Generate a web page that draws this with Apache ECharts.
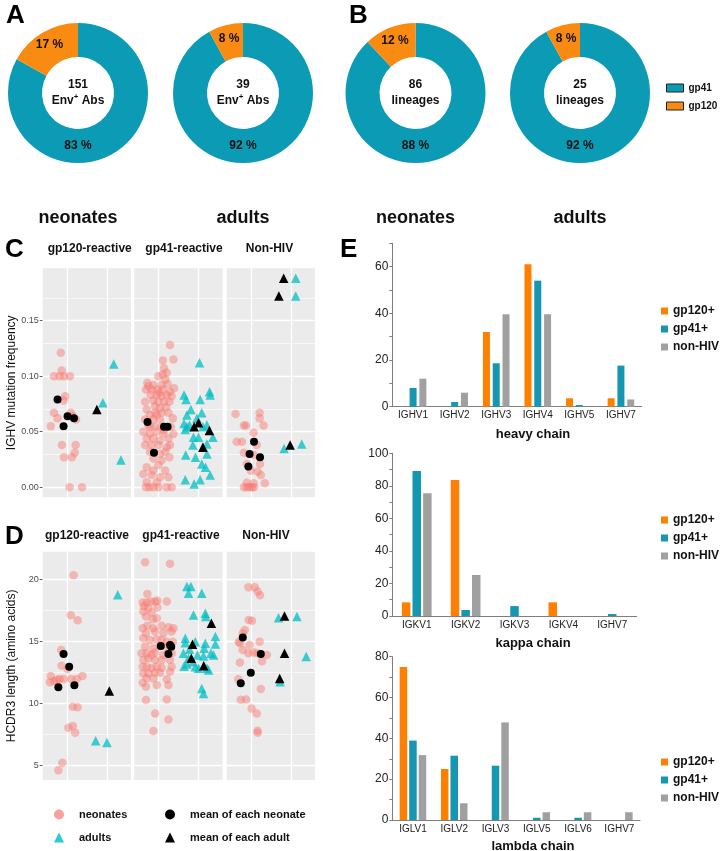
<!DOCTYPE html>
<html><head><meta charset="utf-8">
<script src="https://cdn.jsdelivr.net/npm/echarts@6/dist/echarts.min.js"></script>
<style>html,body{margin:0;padding:0;background:#fff}#main{width:720px;height:851px}</style>
</head><body><div id="main"></div>
<script>
// ---------------- data ----------------
const pieNames = ['gp41', 'gp120'];
const pieGroupLabels = ['neonates', 'adults', 'neonates', 'adults'];
const pieCounts = ['151', '39', '86', '25'];
const pieUnits = ['Env+ Abs', 'Env+ Abs', 'lineages', 'lineages'];
const pieANeonates = [83, 17];
const pieAAdults = [92, 8];
const pieBNeonates = [88, 12];
const pieBAdults = [92, 8];

const facetTitles = ['gp120-reactive', 'gp41-reactive', 'Non-HIV'];
const mutTicks = [0, 0.05, 0.10, 0.15];
const mutMinor = [0.025, 0.075, 0.125, 0.175];
const cdr3Ticks = [5, 10, 15, 20];
const cdr3Minor = [7.5, 12.5, 17.5];
const groupCentres = [1, 2]; // neonates, adults

// IGHV mutation frequency  [jittered group position, value]
const mutGp120Neo = [[0.85,0.121],[0.87,0.105],[0.68,0.100],[0.82,0.100],[0.93,0.100],[1.08,0.100],[0.96,0.082],[0.92,0.078],[0.68,0.067],[0.77,0.062],[1.10,0.067],[1.15,0.064],[1.23,0.061],[0.60,0.055],[0.88,0.038],[1.22,0.038],[1.20,0.031],[0.93,0.027],[1.13,0.027],[1.07,0.000],[1.38,0.000]];
const mutGp120Adu = [[2.17,0.111],[1.90,0.076],[2.35,0.0245]];
const mutGp120NeoMean = [[0.77,0.079],[1.02,0.064],[1.18,0.062],[0.92,0.055]];
const mutGp120AduMean = [[1.75,0.070]];

const mutGp41Neo = [[1.29,0.128],[1.375,0.115],[1.11,0.114],[1.14,0.107],[1.11,0.1015],[1.21,0.103],[1.0,0.100],[1.175,0.097],[0.725,0.094],[0.875,0.092],[1.08,0.092],[1.23,0.093],[1.39,0.089],[0.69,0.088],[0.83,0.088],[0.975,0.088],[1.11,0.088],[1.29,0.086],[0.81,0.083],[0.96,0.083],[1.08,0.082],[1.21,0.083],[1.33,0.082],[0.67,0.077],[0.875,0.078],[1.0,0.077],[1.14,0.077],[1.275,0.077],[0.92,0.073],[1.04,0.071],[1.19,0.072],[0.71,0.070],[0.79,0.065],[0.96,0.065],[1.08,0.067],[1.25,0.067],[0.67,0.061],[0.875,0.061],[1.04,0.061],[1.36,0.062],[0.75,0.056],[0.92,0.0545],[1.08,0.0545],[1.31,0.0545],[0.625,0.050],[0.79,0.0485],[0.96,0.050],[1.125,0.0485],[1.375,0.048],[0.71,0.044],[0.875,0.044],[1.04,0.042],[1.25,0.044],[0.67,0.038],[0.83,0.038],[1.0,0.038],[1.21,0.036],[0.79,0.032],[1.04,0.030],[1.17,0.032],[0.875,0.026],[1.08,0.024],[1.275,0.027],[1.0,0.020],[0.71,0.018],[0.875,0.015],[1.17,0.015],[0.625,0.012],[0.83,0.011],[1.04,0.009],[1.25,0.009],[0.71,0.0045],[0.96,0.0045],[0.69,0.0],[0.775,0.0],[0.875,0.0],[1.0,0.0],[1.21,0.0],[1.33,0.0],[0.75,0.091],[1.02,0.085],[0.92,0.067],[1.14,0.0515],[0.79,0.0545],[1.29,0.038]];
const mutGp41Adu = [[2.025,0.112],[1.64,0.083],[1.69,0.079],[2.275,0.086],[2.29,0.083],[2.04,0.079],[1.81,0.070],[1.71,0.065],[2.08,0.067],[1.96,0.062],[1.64,0.0575],[1.71,0.0545],[1.67,0.052],[1.775,0.056],[2.11,0.0545],[2.21,0.056],[2.36,0.045],[1.875,0.045],[2.0,0.045],[1.86,0.038],[2.21,0.039],[2.11,0.036],[1.68,0.029],[1.925,0.027],[2.21,0.030],[2.08,0.021],[2.175,0.018],[2.29,0.011],[1.67,0.0067],[1.89,0.003],[2.04,0.0067]];
const mutGp41NeoMean = [[0.73,0.0588],[1.14,0.0545],[1.23,0.0545],[0.89,0.031]];
const mutGp41AduMean = [[2.0,0.058],[1.89,0.0545],[2.27,0.051],[2.11,0.036]];

const mutNonNeo = [[0.62,0.066],[1.22,0.067],[1.22,0.062],[0.83,0.0555],[0.88,0.0555],[1.32,0.0555],[1.07,0.049],[0.65,0.041],[0.78,0.041],[1.15,0.038],[0.83,0.031],[1.07,0.029],[0.9,0.021],[1.23,0.021],[1.0,0.015],[1.17,0.014],[1.25,0.011],[0.9,0.004],[1.07,0.0036],[1.35,0.0036],[0.83,0],[0.9,0],[0.97,0],[1.03,0],[1.08,0]];
const mutNonAdu = [[2.12,0.188],[2.12,0.172],[1.83,0.035],[2.27,0.039]];
const mutNonNeoMean = [[1.08,0.041],[0.97,0.030],[1.23,0.027],[0.94,0.0186]];
const mutNonAduMean = [[1.82,0.188],[1.70,0.172],[1.98,0.038]];

// HCDR3 length (amino acids)
const cdrGp120Neo = [[1.10,17.1],[1.27,16.7],[1.17,20.3],[0.86,14.3],[0.87,13.04],[1.02,12.77],[0.6,12.2],[0.68,11.8],[0.58,11.7],[0.75,11.9],[0.82,11.97],[0.92,11.97],[1.11,11.97],[1.25,11.97],[1.39,12.2],[1.15,9.74],[1.27,9.69],[1.04,8.05],[1.15,8.2],[1.21,7.65],[0.89,5.23],[0.79,4.64]];
const cdrGp120Adu = [[2.27,18.73],[1.72,7.0],[2.0,6.87]];
const cdrGp120NeoMean = [[0.92,13.98],[1.06,12.96],[0.79,11.3],[1.19,11.46]];
const cdrGp120AduMean = [[2.06,11.0]];

const cdrGp41Neo = [[0.67,21.36],[1.29,21.23],[0.725,18.81],[1.21,18.19],[0.61,18.11],[0.71,18.11],[0.81,18.19],[0.92,18.19],[0.975,18.25],[0.64,17.8],[0.75,17.66],[0.975,17.71],[0.625,17.39],[0.83,17.31],[0.96,16.85],[0.86,16.77],[0.69,16.99],[0.725,16.24],[0.61,16.05],[0.875,16.05],[1.08,16.24],[1.25,16.13],[1.375,16.05],[0.69,15.65],[0.92,15.78],[1.125,15.65],[1.33,15.78],[0.625,15.24],[0.79,15.11],[0.96,15.16],[1.08,15.11],[1.21,14.97],[1.36,14.97],[0.67,14.57],[0.875,14.44],[1.04,14.63],[1.21,14.52],[0.58,14.03],[0.71,14.03],[0.83,13.9],[0.92,14.09],[1.125,13.9],[1.33,14.03],[0.625,13.5],[0.75,13.63],[0.92,13.5],[1.08,13.5],[1.29,13.5],[0.61,12.96],[0.71,12.96],[0.83,12.83],[0.96,12.96],[1.08,12.88],[1.33,12.96],[0.625,12.42],[0.75,12.42],[0.92,12.48],[1.04,12.48],[1.29,12.56],[0.71,12.02],[0.875,12.02],[1.21,11.94],[0.61,11.67],[0.69,11.35],[0.96,11.48],[1.25,11.48],[0.69,10.28],[1.21,10.33],[0.92,9.2],[1.25,8.72],[0.875,7.78]];
const cdrGp41Adu = [[1.71,19.4],[1.81,19.4],[1.75,18.87],[2.08,18.87],[1.875,17.12],[2.17,17.26],[2.18,16.99],[1.67,15.24],[1.67,14.89],[1.92,14.97],[2.17,14.84],[2.42,15.38],[2.14,14.44],[2.42,14.79],[1.625,14.03],[1.75,13.63],[1.975,13.9],[2.125,13.82],[2.31,14.03],[2.375,13.9],[1.64,13.0],[1.71,13.18],[1.92,12.96],[2.0,12.83],[2.21,12.83],[2.25,12.69],[2.08,11.2],[2.125,10.81],[1.86,13.36],[1.775,14.36]];
const cdrGp41NeoMean = [[1.06,14.63],[1.29,14.7],[1.32,14.57],[1.25,13.98]];
const cdrGp41AduMean = [[2.32,16.45],[1.85,14.76],[1.82,13.63],[2.13,13.04]];

const cdrNonNeo = [[0.94,19.35],[1.1,19.35],[1.17,19.0],[1.23,18.7],[0.95,16.72],[1.03,16.66],[0.85,15.9],[0.8,15.64],[0.7,14.95],[0.73,14.84],[1.22,14.97],[0.8,14.3],[0.97,14.7],[0.94,14.03],[1.07,14.1],[1.17,14.03],[1.4,13.9],[1.28,13.4],[0.73,13.3],[0.69,11.94],[1.25,11.16],[0.75,10.3],[0.88,10.33],[1.02,9.6],[1.15,9.2],[1.17,7.8],[1.17,7.65]];
const cdrNonAdu = [[1.69,16.9],[2.15,17.0],[2.38,13.77],[1.73,11.75]];
const cdrNonNeoMean = [[0.8,15.3],[1.25,13.98],[1.0,12.48],[0.75,11.62]];
const cdrNonAduMean = [[1.84,17.04],[1.84,14.03],[1.72,12.0]];

// Gene usage (%)
const barSeriesNames = ['gp120+', 'gp41+', 'non-HIV'];
const heavyGenes = ['IGHV1', 'IGHV2', 'IGHV3', 'IGHV4', 'IGHV5', 'IGHV7'];
const heavyGp120 = [0, 0, 32, 61, 3.6, 3.6];
const heavyGp41 = [8, 2, 18.6, 54, 0.7, 17.6];
const heavyNon = [12, 6, 39.6, 39.6, 0, 3.1];
const kappaGenes = ['IGKV1', 'IGKV2', 'IGKV3', 'IGKV4', 'IGHV7'];
const kappaGp120 = [8.4, 83.6, 0, 8.4, 0];
const kappaGp41 = [89.1, 3.7, 6.1, 0, 1.2];
const kappaNon = [75.4, 25.2, 0, 0, 0];
const lambdaGenes = ['IGLV1', 'IGLV2', 'IGLV3', 'IGLV5', 'IGLV6', 'IGHV7'];
const lambdaGp120 = [75, 25, 0, 0, 0, 0];
const lambdaGp41 = [38.9, 31.5, 26.6, 1.1, 1.1, 0];
const lambdaNon = [31.8, 8.2, 47.8, 3.8, 3.8, 3.8];
const chainTitles = ['heavy chain', 'kappa chain', 'lambda chain'];

// ---------------- styles / layout ----------------
const FONT = 'Liberation Sans, Arial, Helvetica, sans-serif';
const PIE_TEAL = '#0B9BB5', PIE_ORANGE = '#F98A12';
const BAR_COLORS = ['#FF7F00', '#1596B1', '#A0A0A0'];
const NEO_COLOR = '#F8766D', ADU_COLOR = '#00BFC4';

const facetLefts = [42.7, 134.3, 226.7];
const facetW = 88.3;
const cTop = 268.3, cH = 229;
const dTop = 551.7, dH = 228.3;

const chart = echarts.init(document.getElementById('main'));

const grids = [], xAxes = [], yAxes = [], series = [], legends = [], gfx = [];

function txt(x, y, text, size, weight, extra) {
  const e = Object.assign({
    type: 'text', x: x, y: y, silent: true, z: 100,
    style: {
      text: text, x: 0, y: 0, fill: '#111',
      fontSize: size, fontWeight: weight || 'normal', fontFamily: FONT,
      align: 'center', verticalAlign: 'middle', textAlign: 'center', textVerticalAlign: 'middle'
    }
  }, extra || {});
  gfx.push(e);
  return e;
}

// ---------- Pies ----------
const pieCentres = [[78, 93], [243, 93], [415.5, 93], [580, 93]];
const pieData = [pieANeonates, pieAAdults, pieBNeonates, pieBAdults];
pieData.forEach((vals, i) => {
  const c = pieCentres[i];
  series.push({
    type: 'pie', name: 'pie' + i, center: c, radius: [36, 70], startAngle: 90, clockwise: true,
    avoidLabelOverlap: false, silent: true, animation: false,
    emphasis: { disabled: true, scale: false },
    data: vals.map((v, k) => ({ name: pieNames[k], value: v, itemStyle: { color: k === 0 ? PIE_TEAL : PIE_ORANGE } })),
    label: { show: true, position: 'inside', formatter: p => p.value + ' %', fontFamily: FONT, fontWeight: 'bold', fontSize: 12, color: '#111' },
    labelLine: { show: false },
    labelLayout: p => p.dataIndex === 0 ? { x: c[0], y: c[1] + 53, align: 'center', verticalAlign: 'middle' } : {}
  });
  txt(c[0], c[1] - 8, pieCounts[i], 12, 'bold');
  const u = pieUnits[i];
  if (u.indexOf('+') >= 0) {
    const parts = u.split('+');
    gfx.push({
      type: 'text', x: c[0], y: c[1] + 8, silent: true, z: 100,
      style: {
        text: '{t|' + parts[0] + '}{s|+}{t|' + parts[1] + '}', x: 0, y: 0,
        align: 'center', verticalAlign: 'middle', textAlign: 'center', textVerticalAlign: 'middle',
        rich: {
          t: { fontSize: 12, fontWeight: 'bold', fontFamily: FONT, fill: '#111', lineHeight: 16, verticalAlign: 'middle' },
          s: { fontSize: 8, fontWeight: 'bold', fontFamily: FONT, fill: '#111', lineHeight: 7, verticalAlign: 'top' }
        }
      }
    });
  } else {
    txt(c[0], c[1] + 8, u, 12, 'bold');
  }
  txt(c[0], 218, pieGroupLabels[i], 18, 'bold');
});
legends.push({
  data: pieNames, orient: 'vertical', left: 661, top: 78, itemWidth: 17, itemHeight: 8, itemGap: 8,
  icon: 'rect', selectedMode: false, itemStyle: { borderColor: '#222', borderWidth: 1 },
  textStyle: { fontFamily: FONT, fontWeight: 'bold', fontSize: 10, color: '#111' }
});

// ---------- Facet scatter panels ----------
const mutFacets = [
  [mutGp120Neo, mutGp120Adu, mutGp120NeoMean, mutGp120AduMean],
  [mutGp41Neo, mutGp41Adu, mutGp41NeoMean, mutGp41AduMean],
  [mutNonNeo, mutNonAdu, mutNonNeoMean, mutNonAduMean]
];
const cdrFacets = [
  [cdrGp120Neo, cdrGp120Adu, cdrGp120NeoMean, cdrGp120AduMean],
  [cdrGp41Neo, cdrGp41Adu, cdrGp41NeoMean, cdrGp41AduMean],
  [cdrNonNeo, cdrNonAdu, cdrNonNeoMean, cdrNonAduMean]
];
const scatterNames = ['neonates', 'adults', 'mean of each neonate', 'mean of each adult'];

function addFacetRow(facets, top, h, ymin, ymax, ticks, minors, fmt) {
  facets.forEach((f, j) => {
    const gi = grids.length;
    grids.push({ left: facetLefts[j], top: top, width: facetW, height: h, show: true, backgroundColor: '#EBEBEB', borderWidth: 0, containLabel: false });
    xAxes.push({ gridIndex: gi, type: 'value', min: 0.4, max: 2.6, show: false });
    yAxes.push({
      gridIndex: gi, type: 'value', min: ymin, max: ymax, show: j === 0,
      axisLine: { show: false }, splitLine: { show: false },
      axisTick: { show: true, length: 3, lineStyle: { color: '#333', width: 0.8 }, customValues: ticks },
      axisLabel: { show: true, customValues: ticks, formatter: fmt, color: '#4D4D4D', fontSize: 9, fontFamily: FONT, margin: 4 }
    });
    const ml = [];
    ticks.forEach(v => ml.push({ yAxis: v, lineStyle: { width: 1.3 } }));
    minors.forEach(v => ml.push({ yAxis: v, lineStyle: { width: 0.6 } }));
    groupCentres.forEach(v => ml.push({ xAxis: v, lineStyle: { width: 1.3 } }));
    series.push({
      type: 'scatter', xAxisIndex: gi, yAxisIndex: gi, data: [], silent: true, z: 1, animation: false,
      markLine: { silent: true, z: 1, animation: false, symbol: ['none', 'none'], label: { show: false },
        lineStyle: { color: '#FFFFFF', type: 'solid' }, emphasis: { disabled: true }, data: ml }
    });
    const styles = [
      { symbol: 'circle', symbolSize: 8.5, itemStyle: { color: NEO_COLOR, opacity: 0.45 }, z: 2 },
      { symbol: 'triangle', symbolSize: 9.5, itemStyle: { color: ADU_COLOR, opacity: 0.75 }, z: 2 },
      { symbol: 'circle', symbolSize: 8, itemStyle: { color: '#000', opacity: 1 }, z: 3 },
      { symbol: 'triangle', symbolSize: 9.5, itemStyle: { color: '#000', opacity: 1 }, z: 3 }
    ];
    f.forEach((d, k) => {
      series.push(Object.assign({
        type: 'scatter', name: scatterNames[k], xAxisIndex: gi, yAxisIndex: gi, data: d,
        silent: true, animation: false, emphasis: { disabled: true }
      }, styles[k]));
    });
  });
}
addFacetRow(mutFacets, cTop, cH, -0.009, 0.197, mutTicks, mutMinor, v => v.toFixed(2));
addFacetRow(cdrFacets, dTop, dH, 3.85, 22.2, cdr3Ticks, cdr3Minor, v => String(v));

// facet titles
[89.7, 184, 269.5].forEach((x, j) => txt(x, 249, facetTitles[j], 12, 'bold'));
[87, 181, 266].forEach((x, j) => txt(x, 536, facetTitles[j], 12, 'bold'));
// axis titles
txt(12, cTop + cH / 2, 'IGHV mutation frequency', 12, 'normal', { rotation: Math.PI / 2 });
txt(12, dTop + dH / 2, 'HCDR3 length (amino acids)', 12, 'normal', { rotation: Math.PI / 2 });

// scatter legends
legends.push({
  data: [
    { name: 'neonates', icon: 'circle', itemStyle: { color: '#F7A29C', opacity: 1 } },
    { name: 'adults', icon: 'triangle', itemStyle: { color: '#29C9D6', opacity: 1 } }
  ],
  orient: 'vertical', left: 49, top: 804, itemWidth: 10, itemHeight: 10, itemGap: 12, selectedMode: false,
  textStyle: { fontFamily: FONT, fontWeight: 'bold', fontSize: 11, color: '#111', padding: [0, 0, 0, 10] }
});
legends.push({
  data: [
    { name: 'mean of each neonate', icon: 'circle', itemStyle: { color: '#000', opacity: 1 } },
    { name: 'mean of each adult', icon: 'triangle', itemStyle: { color: '#000', opacity: 1 } }
  ],
  orient: 'vertical', left: 160, top: 804, itemWidth: 10, itemHeight: 10, itemGap: 12, selectedMode: false,
  textStyle: { fontFamily: FONT, fontWeight: 'bold', fontSize: 11, color: '#111', padding: [0, 0, 0, 10] }
});

// ---------- Bar charts ----------
const barCharts = [
  { genes: heavyGenes, vals: [heavyGp120, heavyGp41, heavyNon], max: 70, grid: { left: 392.3, top: 243.3, width: 249.4, height: 163.4 }, bw: 7, gap: '40%', legendTop: 300, titleY: 434 },
  { genes: kappaGenes, vals: [kappaGp120, kappaGp41, kappaNon], max: 100, grid: { left: 392.3, top: 453.3, width: 244.4, height: 162.7 }, bw: 8.5, gap: '25%', legendTop: 509, titleY: 643 },
  { genes: lambdaGenes, vals: [lambdaGp120, lambdaGp41, lambdaNon], max: 80, grid: { left: 392.3, top: 656.7, width: 247.7, height: 163.3 }, bw: 7.5, gap: '27%', legendTop: 751, titleY: 846 }
];
barCharts.forEach((b, i) => {
  const gi = grids.length;
  grids.push(Object.assign({ containLabel: false }, b.grid));
  xAxes.push({
    gridIndex: gi, type: 'category', data: b.genes,
    axisLine: { show: true, lineStyle: { color: '#7F7F7F', width: 1 } },
    axisTick: { show: false },
    axisLabel: { color: '#222', fontSize: 10, fontFamily: FONT, margin: 4, interval: 0 }
  });
  yAxes.push({
    gridIndex: gi, type: 'value', min: 0, max: b.max, interval: 10,
    axisLine: { show: true, lineStyle: { color: '#7F7F7F', width: 1 } },
    axisTick: { show: true, length: 3, lineStyle: { color: '#7F7F7F' } },
    axisLabel: { formatter: v => (v % 20 === 0 ? String(v) : ''), color: '#222', fontSize: 12, fontFamily: FONT, margin: 4 },
    splitLine: { show: false }
  });
  b.vals.forEach((d, k) => {
    series.push({
      type: 'bar', name: barSeriesNames[k], xAxisIndex: gi, yAxisIndex: gi, data: d,
      barWidth: b.bw, barGap: b.gap, itemStyle: { color: BAR_COLORS[k] }, silent: true, animation: false
    });
  });
  legends.push({
    data: barSeriesNames, orient: 'vertical', left: 656, top: b.legendTop, itemWidth: 7, itemHeight: 7, itemGap: 6,
    icon: 'rect', selectedMode: false,
    textStyle: { fontFamily: FONT, fontWeight: 'bold', fontSize: 12, color: '#111' }
  });
  txt(533, b.titleY, chainTitles[i], 13, 'bold');
});

// panel letters
const letterStyle = { align: 'left', textAlign: 'left' };
[['A', 6, 16], ['B', 349, 16], ['C', 5, 249.5], ['D', 5, 537], ['E', 340, 249.5]].forEach(l => {
  const e = txt(l[1], l[2], l[0], 26, 'bold');
  Object.assign(e.style, letterStyle);
  e.style.fill = '#000';
});

chart.setOption({
  animation: false,
  textStyle: { fontFamily: FONT },
  grid: grids, xAxis: xAxes, yAxis: yAxes, series: series, legend: legends,
  graphic: { elements: gfx }
});
</script></body></html>
